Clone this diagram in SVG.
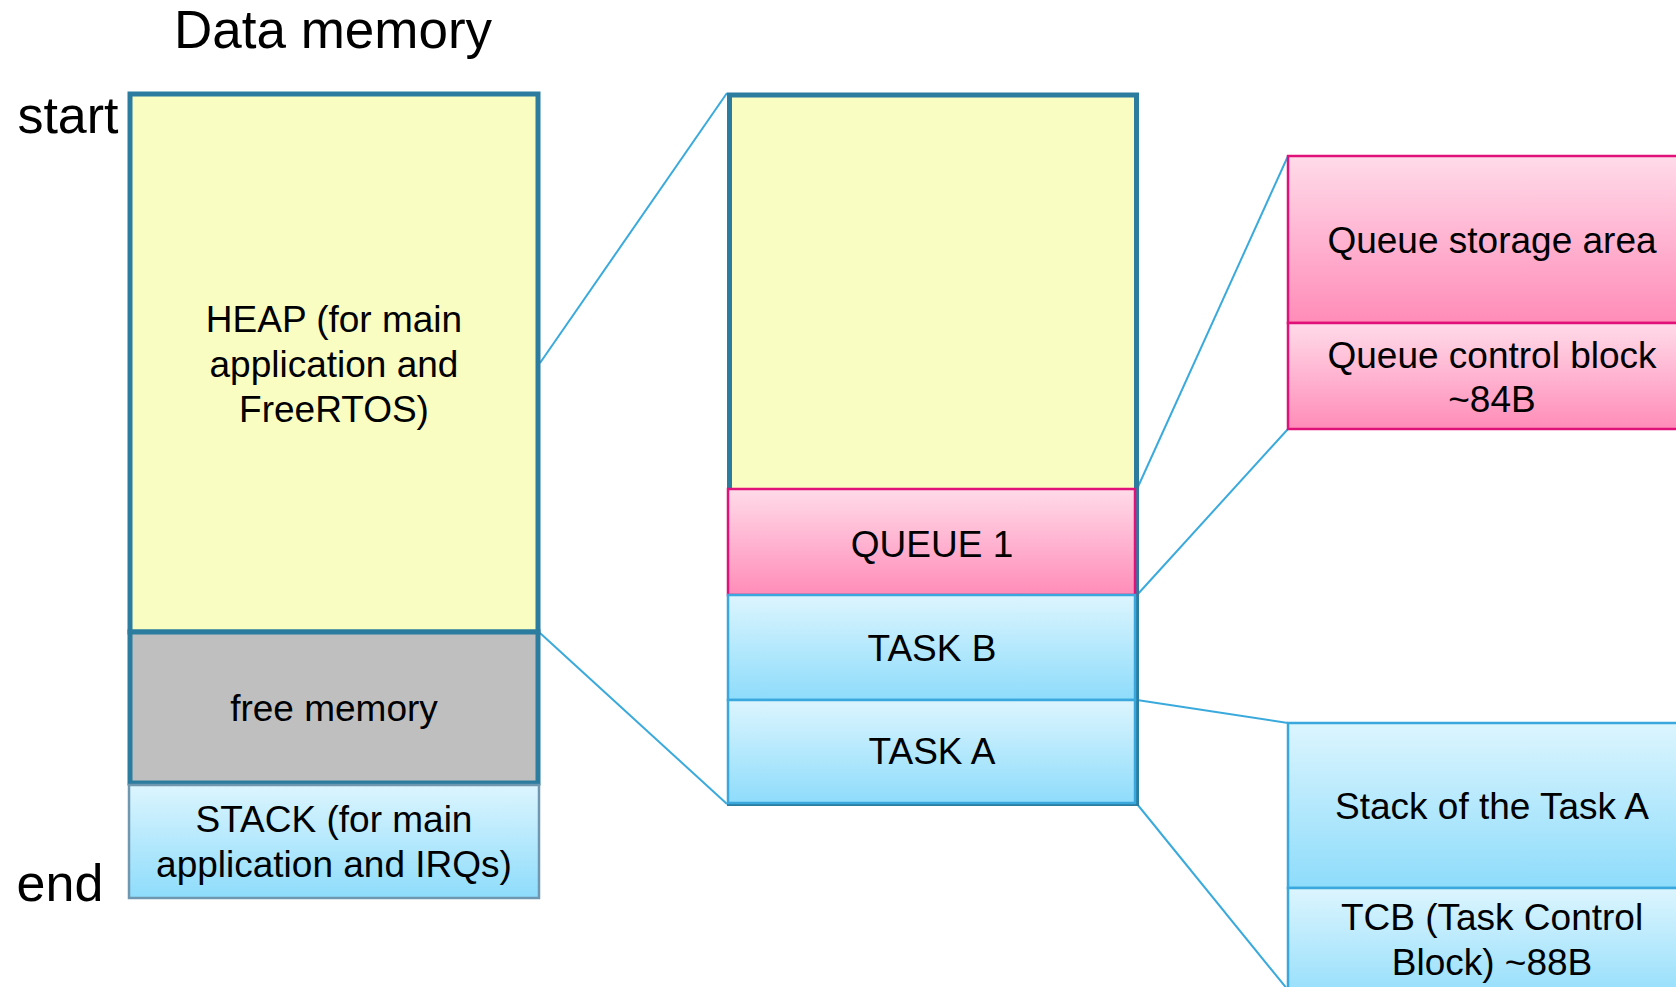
<svg xmlns="http://www.w3.org/2000/svg" width="1676" height="987" viewBox="0 0 1676 987">
<defs>
<linearGradient id="gBlue" x1="0" y1="0" x2="0" y2="1"><stop offset="0" stop-color="#dcf5fe"/><stop offset="1" stop-color="#8edcfb"/></linearGradient>
<linearGradient id="gPink" x1="0" y1="0" x2="0" y2="1"><stop offset="0" stop-color="#ffdbe9"/><stop offset="1" stop-color="#ff8cb8"/></linearGradient>
<style>
text{font-family:"Liberation Sans",Arial,sans-serif;fill:#000;text-anchor:middle}
.lbl{font-size:52px}
.t{font-size:37px}
.heap{fill:#f9fdc2;stroke:#2b7c9f;stroke-width:5}
.free{fill:#bfbfbf;stroke:#2b7c9f;stroke-width:5}
.blue{fill:url(#gBlue);stroke:#3aa8dc;stroke-width:2.5}
.stack{fill:url(#gBlue);stroke:#6f98b0;stroke-width:2.5}
.pink{fill:url(#gPink);stroke:#e0127a;stroke-width:2.5}
.con{stroke:#3aaadc;stroke-width:2;fill:none}
</style>
</defs>
<rect width="1676" height="987" fill="#fff"/>
<text class="lbl" x="333" y="48" style="font-size:53px">Data memory</text>
<text class="lbl" x="68" y="133">start</text>
<text class="lbl" x="60" y="901">end</text>

<g id="connectors">
<line class="con" x1="540" y1="363" x2="727" y2="93"/>
<line class="con" x1="540" y1="633" x2="727" y2="804"/>
<line class="con" x1="1137" y1="489" x2="1288" y2="156"/>
<line class="con" x1="1137" y1="595" x2="1288" y2="429"/>
<line class="con" x1="1137" y1="700" x2="1288" y2="723"/>
<line class="con" x1="1137" y1="804" x2="1288" y2="990"/>
</g>

<g id="heap-left">
<rect class="heap" x="130" y="94" width="408" height="538"/>
<text class="t" x="334" y="332">HEAP (for main</text>
<text class="t" x="334" y="377">application and</text>
<text class="t" x="334" y="422">FreeRTOS)</text>
</g>
<g id="free-memory">
<rect class="free" x="130" y="632" width="408" height="151"/>
<text class="t" x="334" y="721">free memory</text>
</g>
<g id="stack-main">
<rect class="stack" x="129" y="785" width="410" height="113"/>
<text class="t" x="334" y="832">STACK (for main</text>
<text class="t" x="334" y="877">application and IRQs)</text>
</g>

<g id="heap-mid">
<rect class="heap" x="729.5" y="95" width="407" height="708.5"/>
</g>
<g id="queue1">
<rect class="pink" x="728" y="489" width="407" height="106"/>
<text class="t" x="932" y="557">QUEUE 1</text>
</g>
<g id="task-b">
<rect class="blue" x="728" y="595" width="407" height="105"/>
<text class="t" x="932" y="661">TASK B</text>
</g>
<g id="task-a">
<rect class="blue" x="728" y="700" width="407" height="103"/>
<text class="t" x="932" y="764">TASK A</text>
</g>

<g id="queue-storage">
<rect class="pink" x="1288" y="156" width="420" height="167"/>
<text class="t" x="1492" y="253">Queue storage area</text>
</g>
<g id="queue-control">
<rect class="pink" x="1288" y="323" width="420" height="106"/>
<text class="t" x="1492" y="368">Queue control block</text>
<text class="t" x="1492" y="412">~84B</text>
</g>
<g id="task-stack">
<rect class="blue" x="1288" y="723" width="420" height="165"/>
<text class="t" x="1492" y="819">Stack of the Task A</text>
</g>
<g id="tcb">
<rect class="blue" x="1288" y="888" width="420" height="120"/>
<text class="t" x="1492" y="930">TCB (Task Control</text>
<text class="t" x="1492" y="975">Block) ~88B</text>
</g>
</svg>
